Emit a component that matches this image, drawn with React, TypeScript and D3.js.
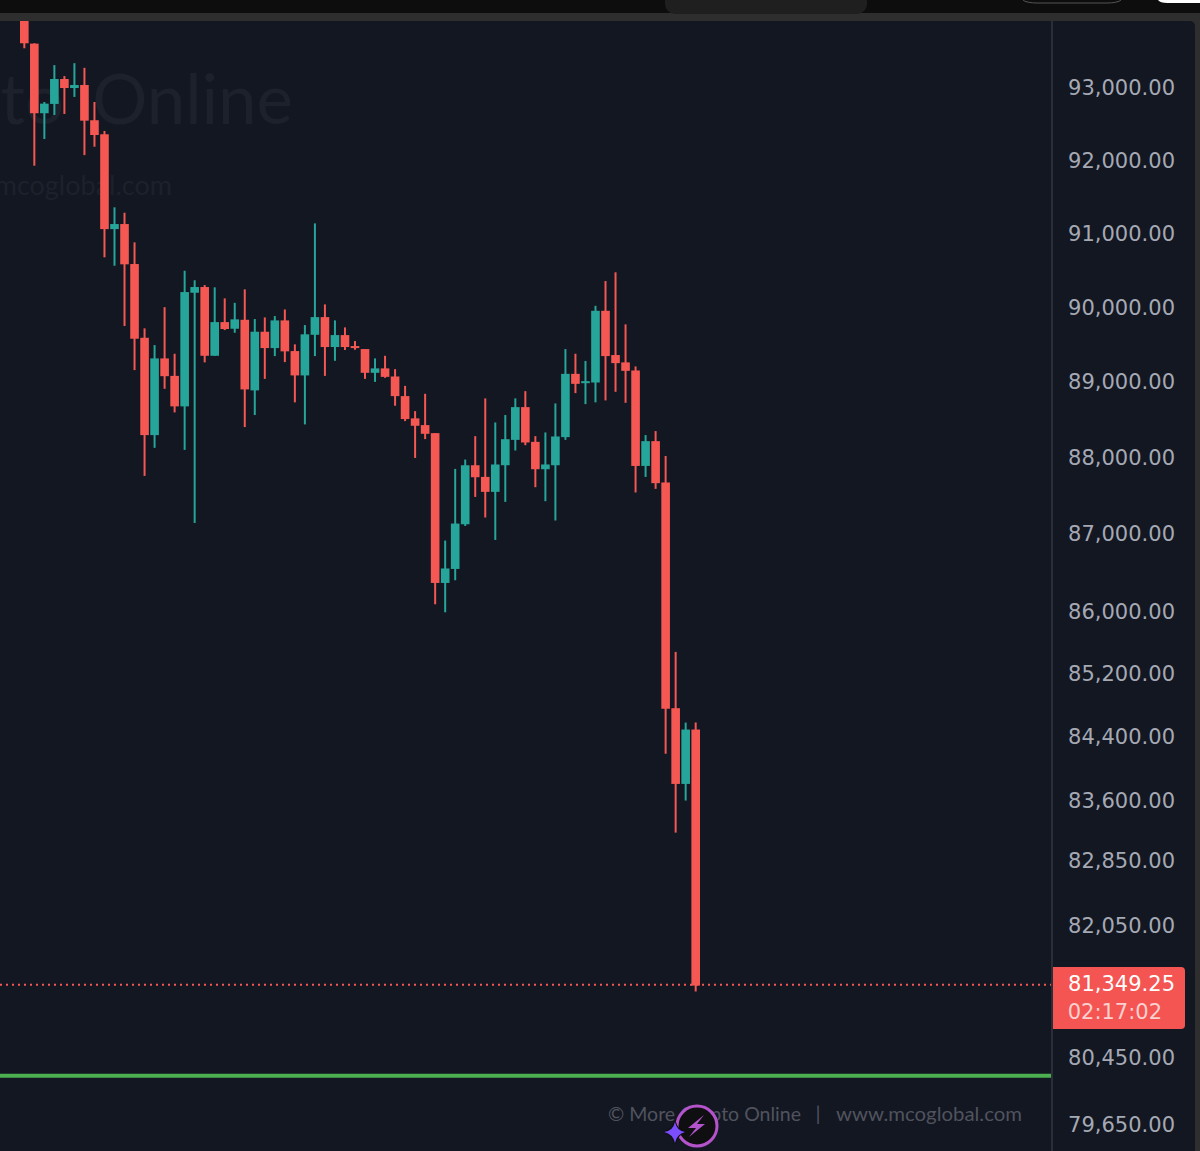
import * as d3 from "d3";

// price chart values
const opens = [94070, 93605, 92636, 92765, 93111, 92986, 93028, 92539, 92345, 91045, 91114, 90571, 89578, 88284, 89302, 89069, 88664, 90183, 90260, 89337, 89788, 89699, 89819, 88876, 89659, 89440, 89811, 89400, 89075, 89618, 89855, 89454, 89614, 89467, 89427, 89110, 89169, 89061, 88800, 88505, 88416, 88310, 86354, 86535, 87115, 87887, 87734, 87538, 87887, 88221, 88654, 88195, 87835, 87887, 88257, 89096, 88972, 88981, 89940, 89347, 89249, 89141, 87878, 88204, 87661, 84752, 83798, 84482];
const highs = [94150, 93610, 92792, 93305, 93152, 93332, 93267, 92792, 92391, 91342, 91268, 90865, 89704, 89480, 89989, 89364, 90480, 90351, 90287, 90256, 90107, 90047, 90229, 89829, 89851, 89869, 89958, 89490, 89748, 91123, 90026, 89811, 89717, 89534, 89427, 89302, 89337, 89159, 88936, 88601, 88831, 88310, 86903, 87839, 87962, 88270, 88770, 88451, 88549, 88770, 88866, 88270, 88319, 88703, 89427, 89364, 89268, 90007, 90341, 90459, 89758, 89195, 88284, 88337, 88009, 85468, 84570, 84570];
const lows = [93540, 91912, 92280, 92612, 92626, 92862, 92058, 92173, 90662, 90548, 89735, 89146, 87747, 88116, 88897, 88584, 88089, 87132, 89249, 89337, 89681, 89645, 88390, 88549, 89029, 89333, 89253, 88717, 88425, 89333, 89069, 89270, 89414, 89417, 89029, 88989, 89043, 88672, 88469, 87983, 88231, 86079, 85976, 86389, 87093, 87472, 87203, 86911, 87407, 88081, 88151, 87599, 87416, 87164, 88221, 88840, 88694, 88717, 88743, 88857, 88711, 87530, 87734, 87577, 84176, 83190, 83590, 81236];
const closes = [93610, 92636, 92769, 93111, 92986, 93028, 92533, 92335, 91045, 91114, 90567, 89565, 88284, 89302, 89065, 88664, 90192, 90260, 89337, 89788, 89695, 89825, 88889, 89659, 89440, 89811, 89396, 89075, 89624, 89855, 89454, 89614, 89454, 89440, 89110, 89169, 89056, 88800, 88496, 88407, 88301, 86354, 86541, 87124, 87887, 87730, 87538, 87897, 88230, 88654, 88187, 87835, 87897, 88266, 89096, 88963, 88999, 89940, 89333, 89239, 89136, 87878, 88204, 87652, 84745, 83798, 84482, 81309];

const tickValues = [93000, 92000, 91000, 90000, 89000, 88000, 87000, 86000, 85200, 84400, 83600, 82850, 82050, 80450, 79650];
const supportLevel = 80222;
const lastPriceLine = 81318;
const lastPriceLabel = "81,349.25";
const countdownLabel = "02:17:02";
const watermarkLeft = "© More Crypto";
const watermarkRight = "Online";
const watermarkSite = "www.mcoglobal.com";
const footerName = "© More Crypto Online";
const footerSite = "www.mcoglobal.com";

const W = 1200;
const H = 1151;
const axisX = 1051;
const panelTop = 21;

const UP = "#26a69a";
const DOWN = "#f55753";
const AXIS_FONT = "'DejaVu Sans', sans-serif";

export default function App() {
  const x = d3
    .scaleBand<number>()
    .domain(d3.range(opens.length))
    .range([19.3, 700.7])
    .paddingInner(0.14)
    .paddingOuter(0.07);
  const y = d3.scaleLog().domain([93000, 79650]).range([87, 1123.5]);
  const fmt = d3.format(",.2f");

  return (
    <svg
      width={W}
      height={H}
      viewBox={`0 0 ${W} ${H}`}
      style={{ position: "absolute", left: 0, top: 0, display: "block" }}
    >
      <defs>
        <clipPath id="plot">
          <rect x={0} y={panelTop} width={axisX} height={H - panelTop} />
        </clipPath>
      </defs>

      {/* window chrome */}
      <rect width={W} height={H} fill="#2e2e2e" />
      <rect width={W} height={13} fill="#0d0d0d" />
      <path d="M665 0h202v4a10 10 0 0 1-10 10H675a10 10 0 0 1-10-10z" fill="#1f1f1f" />
      <path d="M1023 0a14 4 0 0 0 14 3h70a14 4 0 0 0 14-3" fill="none" stroke="#555" strokeWidth={1} />
      <path d="M1158 0a10 4 0 0 0 10 3h32v-3z" fill="#fff" />
      <path d={`M0 ${panelTop}H1190a5 5 0 0 1 5 5V${H}H0z`} fill="#131722" />

      {/* watermark */}
      <g clipPath="url(#plot)" fontFamily="Lato, sans-serif" fill="#1c212c">
        <text x={64} y={124} textAnchor="end" fontSize={69}>
          {watermarkLeft}
        </text>
        <text x={293} y={124} textAnchor="end" fontSize={69}>
          {watermarkRight}
        </text>
        <text x={172} y={195} textAnchor="end" fontSize={27}>
          {watermarkSite}
        </text>
      </g>

      {/* price lines */}
      <line x1={0} x2={axisX} y1={y(lastPriceLine)} y2={y(lastPriceLine)} stroke={DOWN} strokeWidth={2} strokeDasharray="2 4" />
      <line x1={0} x2={axisX} y1={y(supportLevel)} y2={y(supportLevel)} stroke="#4caf50" strokeWidth={4} />

      {/* candles */}
      <g clipPath="url(#plot)">
        {opens.map((o, i) => {
          const c = closes[i];
          const color = c >= o ? UP : DOWN;
          const cx = (x(i) ?? 0) + x.bandwidth() / 2;
          const top = y(Math.max(o, c));
          const bottom = y(Math.min(o, c));
          return (
            <g key={i}>
              <line x1={cx} x2={cx} y1={y(highs[i])} y2={y(lows[i])} stroke={color} strokeWidth={2} />
              <rect x={x(i)} y={top} width={x.bandwidth()} height={bottom - top} fill={color} />
            </g>
          );
        })}
      </g>

      {/* footer credit */}
      <g fontFamily="Lato, sans-serif" fontSize={20} fill="#50535e">
        <text x={608} y={1121} textLength={193} lengthAdjust="spacingAndGlyphs">{footerName}</text>
        <text x={818} y={1121} textAnchor="middle">|</text>
        <text x={836} y={1121} textLength={186} lengthAdjust="spacingAndGlyphs">{footerSite}</text>
      </g>
      <circle cx={697} cy={1126} r={20} fill="#0f0f12" stroke="#b553cc" strokeWidth={3} />
      <path d="M704 1115L688 1128H696L689 1137L705 1124H697z" fill="#b553cc" />
      <path d="M675 1122q2 9 10 10q-8 2-10 11q-2-9-11-11q9-1 11-10z" fill="#7a4dff" stroke="#0f0f12" strokeWidth={2} paintOrder="stroke" />

      {/* price axis */}
      <rect x={axisX} y={panelTop} width={2} height={H - panelTop} fill="#2a2e39" />
      <g fontFamily={AXIS_FONT} fontSize={21} fill="#a5a9b4" textAnchor="end">
        {tickValues.map((t) => (
          <text key={t} x={1175} y={y(t)} dy="0.39em">
            {fmt(t)}
          </text>
        ))}
      </g>
      <path d="M1053 967H1181a4 4 0 0 1 4 4V1025a4 4 0 0 1-4 4H1053z" fill="#f45552" />
      <g fontFamily={AXIS_FONT} fontSize={21} textAnchor="end">
        <text x={1175} y={991} fill="#ffffff">{lastPriceLabel}</text>
        <text x={1162} y={1019} fill="#fbd0ce">{countdownLabel}</text>
      </g>
    </svg>
  );
}
